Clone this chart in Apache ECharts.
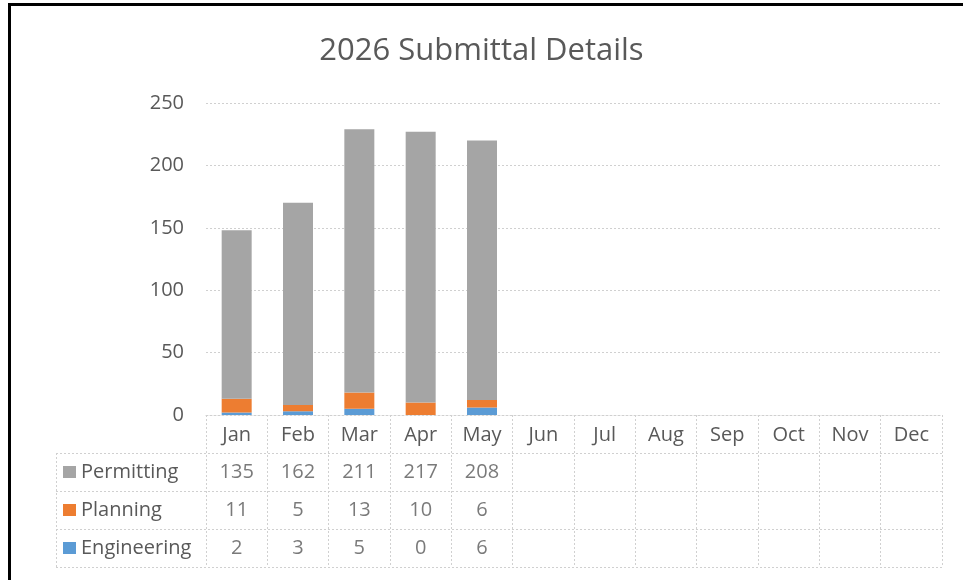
<!DOCTYPE html>
<html>
<head>
<meta charset="utf-8">
<script src="https://cdn.jsdelivr.net/npm/echarts@6/dist/echarts.min.js"></script>
<style>
  html, body { margin: 0; padding: 0; background: #ffffff; }
  #chart { width: 963px; height: 580px; }
</style>
</head>
<body>
<div id="chart"></div>
<script>
// Monthly submittal counts by department
const months = ['Jan', 'Feb', 'Mar', 'Apr', 'May', 'Jun', 'Jul', 'Aug', 'Sep', 'Oct', 'Nov', 'Dec'];
const permitting = [135, 162, 211, 217, 208];
const planning = [11, 5, 13, 10, 6];
const engineering = [2, 3, 5, 0, 6];
const seriesNames = ['Permitting', 'Planning', 'Engineering'];
const yMax = 250;
const yStep = 50;

const colors = { Permitting: '#a5a5a5', Planning: '#ed7d31', Engineering: '#5b9bd5' };
const valuesByName = { Permitting: permitting, Planning: planning, Engineering: engineering };

const TEXT = '#595959';
const FONT = '"Open Sans", sans-serif';
const GRIDLINE = '#d0d0d0';
const DASH = [2, 2];

// Layout of the plot and the data table beneath it
const plotLeft = 206, plotRight = 942, plotTop = 103, plotBottom = 415;
const rowH = 38, tableLeft = 56;
const headerBottom = plotBottom + rowH;
const tableBottom = headerBottom + rowH * seriesNames.length;

const chart = echarts.init(document.getElementById('chart'), null, { renderer: 'canvas' });

const grids = [{ left: plotLeft, top: plotTop, width: plotRight - plotLeft, height: plotBottom - plotTop }];
const xAxes = [{
  type: 'category', gridIndex: 0, data: months, boundaryGap: true,
  axisLine: { show: true, lineStyle: { color: GRIDLINE, type: DASH, width: 1 } },
  axisTick: { show: true, interval: 0, length: tableBottom - plotBottom,
    lineStyle: { color: GRIDLINE, type: DASH, width: 1 } },
  axisLabel: { color: TEXT, fontFamily: FONT, fontSize: 20, margin: 10, interval: 0 }
}];
const yAxes = [{
  type: 'value', gridIndex: 0, min: 0, max: yMax, interval: yStep,
  axisLine: { show: false }, axisTick: { show: false },
  axisLabel: { color: TEXT, fontFamily: FONT, fontSize: 20, margin: 22 },
  splitLine: { lineStyle: { color: GRIDLINE, type: DASH, width: 1 } }
}];

// Stacked bars, Engineering at the base
const series = ['Engineering', 'Planning', 'Permitting'].map(name => ({
  name, type: 'bar', stack: 'total', xAxisIndex: 0, yAxisIndex: 0,
  barWidth: 30, data: valuesByName[name],
  itemStyle: { color: colors[name] }
}));

// One grid per table row; the value text is placed by that row's axes
seriesNames.forEach((name, i) => {
  const g = i + 1;
  grids.push({ left: plotLeft, top: headerBottom + rowH * i, width: plotRight - plotLeft, height: rowH });
  xAxes.push({ type: 'category', gridIndex: g, data: months, boundaryGap: true,
    axisLine: { show: false }, axisTick: { show: false }, axisLabel: { show: false } });
  yAxes.push({ type: 'value', gridIndex: g, min: 0, max: 1, show: false, splitLine: { show: false } });
  series.push({
    name: name + ' table', type: 'scatter', xAxisIndex: g, yAxisIndex: g,
    symbolSize: 0, silent: true,
    data: valuesByName[name].map((v, k) => [k, 0.5, v]),
    label: { show: true, position: 'inside', color: TEXT, fontFamily: FONT, fontSize: 20,
      formatter: p => String(p.value[2]) }
  });
});

// Legend keys in the table's first column
const legends = seriesNames.map((name, i) => ({
  data: [name], orient: 'vertical', left: 63, top: headerBottom + rowH * i + 9,
  icon: 'rect', itemWidth: 13, itemHeight: 12, padding: 0, selectedMode: false,
  textStyle: { color: TEXT, fontFamily: FONT, fontSize: 20 }
}));

// Table rules and the outer frame
const rule = { stroke: GRIDLINE, lineWidth: 1, lineDash: DASH };
const graphics = [];
for (let r = 0; r <= seriesNames.length; r++) {
  const y = headerBottom + rowH * r + 0.5;
  graphics.push({ type: 'line', silent: true, shape: { x1: tableLeft, y1: y, x2: plotRight, y2: y }, style: rule });
}
graphics.push({ type: 'line', silent: true,
  shape: { x1: tableLeft + 0.5, y1: headerBottom, x2: tableLeft + 0.5, y2: tableBottom }, style: rule });
graphics.push({ type: 'rect', silent: true, shape: { x: 9.5, y: 4.5, width: 1000, height: 1000 },
  style: { fill: 'none', stroke: '#000000', lineWidth: 3 } });

chart.setOption({
  animation: false,
  backgroundColor: '#ffffff',
  title: {
    text: '2026 Submittal Details', left: 'center', top: 31,
    textStyle: { color: TEXT, fontFamily: FONT, fontSize: 31, fontWeight: 'normal' }
  },
  grid: grids,
  xAxis: xAxes,
  yAxis: yAxes,
  legend: legends,
  series: series,
  graphic: graphics
});
</script>
</body>
</html>
